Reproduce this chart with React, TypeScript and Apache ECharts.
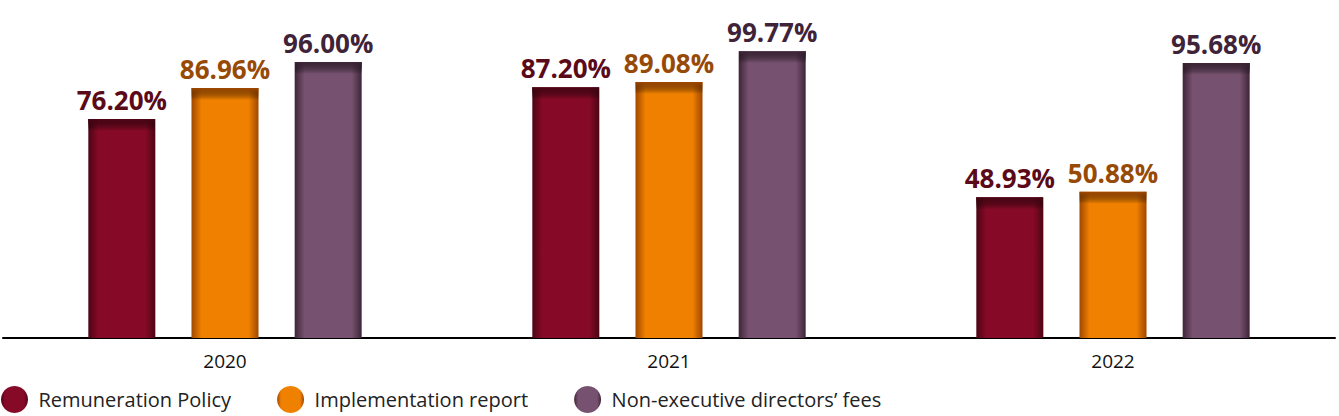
import React, { useEffect, useRef } from "react";
import * as echarts from "echarts";

const categories = ["2020", "2021", "2022"];
const seriesNames = ["Remuneration Policy", "Implementation report", "Non-executive directors’ fees"];
const remunerationPolicy = [76.2, 87.2, 48.93];
const implementationReport = [86.96, 89.08, 50.88];
const nedFees = [96.0, 99.77, 95.68];

const mainColors = ["#860A27", "#F08000", "#775270"];
const edgeColors = ["#4C0514", "#A04800", "#3E2538"];
const labelColors = ["#5A0A18", "#974A05", "#3F2339"];

export default function App() {
  const ref = useRef<HTMLDivElement>(null);
  useEffect(() => {
    if (!ref.current) return;
    const chart = echarts.init(ref.current, null, { renderer: "svg" });
    const data = [remunerationPolicy, implementationReport, nedFees];
    const hGrad = (i: number) =>
      new echarts.graphic.LinearGradient(0, 0, 1, 0, [
        { offset: 0, color: edgeColors[i] },
        { offset: 0.15, color: mainColors[i] },
        { offset: 0.85, color: mainColors[i] },
        { offset: 1, color: edgeColors[i] },
      ]);
    const barSeries = data.map((d, i) => ({
      name: seriesNames[i],
      type: "bar",
      data: d,
      barWidth: 67,
      barGap: "54%",
      itemStyle: { color: hGrad(i) },
      label: {
        show: true,
        position: "top",
        distance: 6,
        formatter: (p: any) => p.value.toFixed(2) + "%",
        color: labelColors[i],
        fontFamily: "Open Sans",
        fontWeight: "bold",
        fontSize: 26,
      },
    }));
    // top inner glow overlays
    const glowSeries = data.map((d, i) => ({
      type: "custom",
      silent: true,
      z: 3,
      legendHoverLink: false,
      data: d.map((v, k) => [k, v]),
      renderItem: (params: any, api: any) => {
        const k = api.value(0);
        const v = api.value(1);
        const top = api.coord([k, v]);
        const bandW = api.size([1, 0])[0];
        const offsets = [-103.5, 0, 103.5];
        const cx = top[0] + offsets[i] * (bandW / 444);
        return {
          type: "rect",
          shape: { x: cx - 33.5, y: top[1], width: 67, height: 12 },
          style: {
            fill: new echarts.graphic.LinearGradient(0, 0, 0, 1, [
              { offset: 0, color: edgeColors[i] },
              { offset: 1, color: "rgba(0,0,0,0)" },
            ]),
          },
        };
      },
    }));
    chart.setOption({
      animation: false,
      grid: { left: 3, right: 4, top: 50.5, bottom: 78 },
      legend: {
        data: seriesNames,
        left: 1,
        top: 386,
        icon: "circle",
        itemWidth: 38,
        itemHeight: 27,
        itemGap: 46,
        padding: 0,
        textStyle: { fontFamily: "Open Sans", fontSize: 20, color: "#222" },
      },
      xAxis: {
        type: "category",
        data: categories,
        axisLine: { lineStyle: { color: "#000", width: 2 } },
        axisTick: { show: false },
        axisLabel: { margin: 13, fontFamily: "Open Sans", fontSize: 19, color: "#111" },
      },
      yAxis: { type: "value", min: 0, max: 100, show: false },
      series: [...barSeries, ...glowSeries],
    });
    return () => chart.dispose();
  }, []);
  return <div ref={ref} style={{ position: "absolute", left: 0, top: 0, width: 1339, height: 416 }} />;
}
